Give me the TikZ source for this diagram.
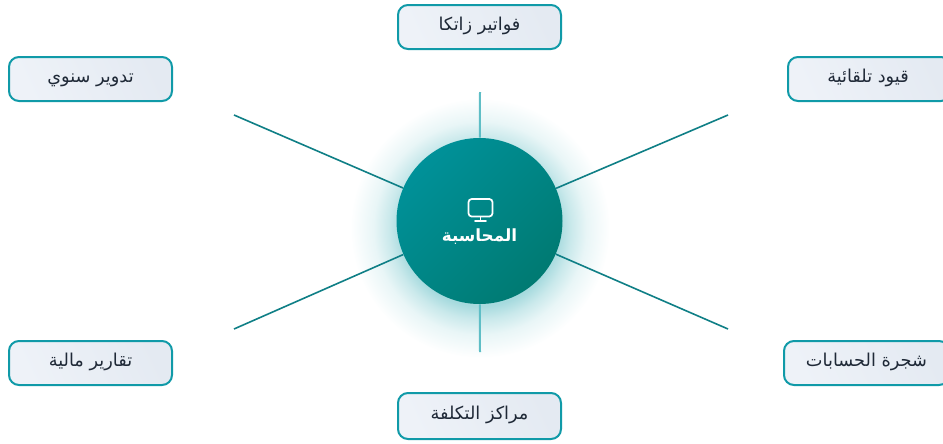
\documentclass[tikz,border=0pt]{standalone}
\usepackage{fontspec}
\TeXXeTstate=1
\newfontfamily\arabicfont[Script=Arabic]{DejaVu Sans}
\definecolor{glowc}{HTML}{A6DADE}
\definecolor{boxedge}{HTML}{109AA8}
\definecolor{boxa}{HTML}{EEF2F8}
\definecolor{boxb}{HTML}{E4EAF2}
\definecolor{huba}{HTML}{009199}
\definecolor{hubb}{HTML}{007A72}
\definecolor{linedark}{HTML}{0F7F86}
\definecolor{linelight}{HTML}{5FBEC6}
\definecolor{ink}{HTML}{1F2937}
\pgfdeclareradialshading{hubglow}{\pgfpoint{0bp}{0bp}}{color(0bp)=(glowc); color(15bp)=(glowc); color(17.5bp)=(glowc!60!white); color(20.5bp)=(glowc!25!white); color(25bp)=(white); color(50bp)=(white)}
\tikzset{
  itembox/.style={draw=boxedge,line width=1.5pt,rounded corners=7.5pt,left color=boxa,right color=boxb,shading angle=115,
    minimum width=122.25pt,minimum height=33pt,inner sep=0pt},
  itemlabel/.style={inner sep=0pt,text=ink,font=\arabicfont\fontsize{13.3pt}{16pt}\selectfont},
  spoke/.style={draw=linedark,line width=1.2pt},
  spokelight/.style={draw=linelight,line width=1.5pt},
  hubnode/.style={circle,minimum size=124.5pt,inner sep=0pt,top color=huba,bottom color=hubb,shading angle=45},
}
\begin{document}
\begin{tikzpicture}[x=0.75pt,y=-0.75pt]
\useasboundingbox (0,0) rectangle (943,443);
\clip (0,0) rectangle (943,443);
\fill[white] (0,0) rectangle (943,443);
\shade[shading=hubglow] (480,228) circle (130);
\node[hubnode] (hub) at (479.5,221) {};
\coordinate (ntop) at (480,92);
\coordinate (nbot) at (480,352);
\coordinate (nul) at (234,115);
\coordinate (nur) at (728,115);
\coordinate (nll) at (234,329);
\coordinate (nlr) at (728,329);
\draw[spokelight] (ntop) -- (hub);
\draw[spokelight] (nbot) -- (hub);
\draw[spoke] (nul) -- (hub);
\draw[spoke] (nur) -- (hub);
\draw[spoke] (nll) -- (hub);
\draw[spoke] (nlr) -- (hub);
\node[itembox] (top) at (479.5,27) {};
\node[itemlabel] (toplabel) at (479.5,26) {\beginR فواتير زاتكا\endR};
\node[itembox] (ul) at (90.5,79) {};
\node[itemlabel] (ullabel) at (90.5,80) {\beginR تدوير سنوي\endR};
\node[itembox] (ur) at (869.5,79) {};
\node[itemlabel] (urlabel) at (868,78) {\beginR قيود تلقائية\endR};
\node[itembox] (ll) at (90.5,363) {};
\node[itemlabel] (lllabel) at (90.5,362) {\beginR تقارير مالية\endR};
\node[itembox,minimum width=123.75pt] (lr) at (866.5,363) {};
\node[itemlabel] (lrlabel) at (866.5,362) {\beginR شجرة الحسابات\endR};
\node[itembox,minimum height=34.5pt] (bot) at (479.5,416) {};
\node[itemlabel] (botlabel) at (479.5,415) {\beginR مراكز التكلفة\endR};
\node[text=white,font=\arabicfont\bfseries\fontsize{12.6pt}{15pt}\selectfont,inner sep=0pt] (hublabel) at (479.5,237) {\beginR المحاسبة\endR};
\draw[white,line width=1.3pt,rounded corners=2.4pt] (468.5,199) rectangle (492.5,216.5);
\draw[white,line width=1.3pt] (480.5,216.5) -- (480.5,221);
\draw[white,line width=1.3pt,line cap=round] (475,221.3) -- (486,221.3);
\end{tikzpicture}
\end{document}
